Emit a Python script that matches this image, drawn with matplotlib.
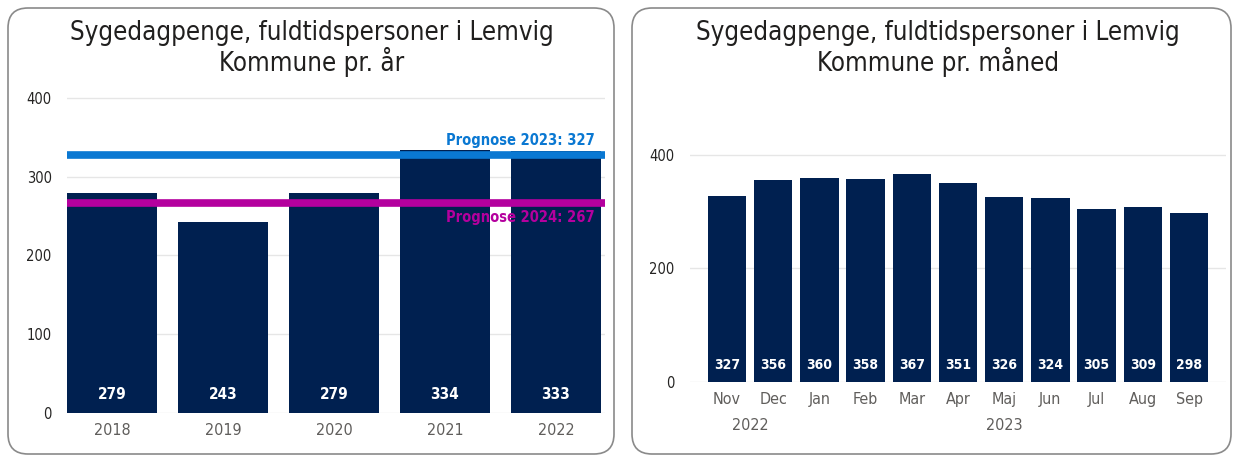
import matplotlib
matplotlib.use("Agg")
import matplotlib.pyplot as plt
from matplotlib.patches import FancyBboxPatch
from matplotlib.transforms import IdentityTransform

# Data
aar = ["2018", "2019", "2020", "2021", "2022"]
aar_vaerdier = [279, 243, 279, 334, 333]
prognose_2023 = 327
prognose_2024 = 267

maaneder = ["Nov", "Dec", "Jan", "Feb", "Mar", "Apr", "Maj", "Jun", "Jul", "Aug", "Sep"]
maaned_vaerdier = [327, 356, 360, 358, 367, 351, 326, 324, 305, 309, 298]
aar_grupper = [("2022", 0, 1), ("2023", 2, 10)]

plt.rcParams['font.family'] = ['DejaVu Sans']
plt.rcParams['font.stretch'] = 'condensed'

NAVY = "#002050"
BLUE = "#0a78d2"
MAGENTA = "#b4009e"
GRAY = "#605e5c"
W, H = 1237, 459

fig = plt.figure(figsize=(W / 100, H / 100), dpi=100)


def px_axes(x0, y0, x1, y1):
    # pixel box (top-left origin) -> figure axes
    ax = fig.add_axes([x0 / W, 1 - y1 / H, (x1 - x0) / W, (y1 - y0) / H])
    ax.set_facecolor("none")
    return ax


# rounded panels (pixel coordinates, origin bottom-left)
for x0, x1 in [(8, 614), (632, 1231)]:
    box = FancyBboxPatch((x0, 5), x1 - x0, H - 13,
                         boxstyle="round,pad=0,rounding_size=20",
                         transform=IdentityTransform(), facecolor="white",
                         edgecolor="#8a8a8a", linewidth=1.2, zorder=-5)
    fig.patches.append(box)

titel_kw = dict(ha="center", va="center", fontsize=18.5, color="#201f1e")
fig.text(312 / W, 1 - 33 / H, "Sygedagpenge, fuldtidspersoner i Lemvig", **titel_kw)
fig.text(312 / W, 1 - 62 / H, "Kommune pr. år", **titel_kw)
fig.text(938 / W, 1 - 33 / H, "Sygedagpenge, fuldtidspersoner i Lemvig", **titel_kw)
fig.text(938 / W, 1 - 62 / H, "Kommune pr. måned", **titel_kw)


def style(ax):
    for s in ax.spines.values():
        s.set_visible(False)
    ax.tick_params(axis="both", length=0)
    ax.tick_params(axis="y", labelsize=10.5, labelcolor="#252423", pad=11)
    ax.tick_params(axis="x", labelsize=11.5, labelcolor=GRAY, pad=7)
    ax.grid(axis="y", color="#e6e6e6", linewidth=1)
    ax.set_axisbelow(True)


# left chart: per year
ax1 = px_axes(67, 90, 605, 413)
style(ax1)
x1 = range(len(aar))
ax1.bar(x1, aar_vaerdier, width=0.81, color=NAVY, zorder=2)
ax1.set_xlim(-0.405, -0.405 + 538 / 111)
ax1.set_ylim(0, 410)
ax1.set_yticks([0, 100, 200, 300, 400])
ax1.set_xticks(list(x1))
ax1.set_xticklabels(aar)
for i, v in enumerate(aar_vaerdier):
    ax1.text(i, 23, str(v), ha="center", va="center", color="white",
             fontsize=11, fontweight="bold", zorder=3)
ax1.axhline(prognose_2023, color=BLUE, linewidth=5.5, zorder=3)
ax1.axhline(prognose_2024, color=MAGENTA, linewidth=5.5, zorder=3)
ax1.text(4.35, prognose_2023 + 9, f"Prognose 2023: {prognose_2023}", ha="right",
         va="bottom", color=BLUE, fontsize=10.5, fontweight="bold", zorder=4)
ax1.text(4.35, prognose_2024 - 9, f"Prognose 2024: {prognose_2024}", ha="right",
         va="top", color=MAGENTA, fontsize=10.5, fontweight="bold", zorder=4)

# right chart: per month
ax2 = px_axes(690, 130, 1226, 382)
style(ax2)
x2 = range(len(maaneder))
ax2.bar(x2, maaned_vaerdier, width=0.83, color=NAVY, zorder=2)
ax2.set_xlim(-0.8, len(maaneder) - 0.2)
ax2.set_ylim(0, 444)
ax2.set_yticks([0, 200, 400])
ax2.set_xticks(list(x2))
ax2.set_xticklabels(maaneder)
for i, v in enumerate(maaned_vaerdier):
    ax2.text(i, 30, str(v), ha="center", va="center", color="white",
             fontsize=10, fontweight="bold", zorder=3)
for navn, a, b in aar_grupper:
    ax2.annotate(navn, xy=((a + b) / 2, 0), xycoords=("data", "axes fraction"),
                 xytext=(0, -31), textcoords="offset points", ha="center",
                 va="center", fontsize=11.5, color=GRAY)

fig.savefig("out.png", dpi=100)
